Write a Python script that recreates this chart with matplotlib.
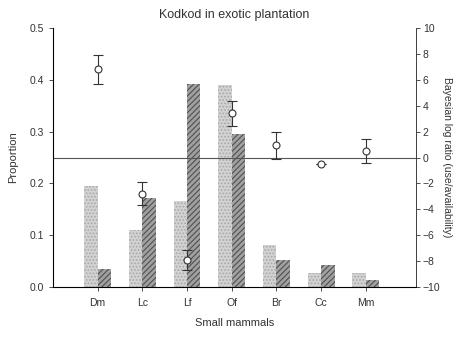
import matplotlib
matplotlib.use('Agg')
import matplotlib.pyplot as plt
import numpy as np

plt.rcParams['font.family'] = ['Liberation Sans', 'DejaVu Sans']
plt.rcParams['hatch.linewidth'] = 0.8

species = ['Dm', 'Lc', 'Lf', 'Of', 'Br', 'Cc', 'Mm']
availability = [0.195, 0.111, 0.167, 0.390, 0.082, 0.028, 0.028]
use = [0.035, 0.172, 0.392, 0.295, 0.052, 0.042, 0.013]
log_ratio = [6.8, -2.8, -7.9, 3.4, 0.95, -0.5, 0.5]
log_err = [1.1, 0.9, 0.75, 0.95, 1.05, 0.0, 0.9]

x = np.arange(1, len(species) + 1)
w = 0.3

fig = plt.figure(figsize=(4.56, 3.37), dpi=100)
ax = fig.add_axes([0.116, 0.148, 0.796, 0.769])

ax.bar(x - w / 2, availability, w, facecolor='#d2d2d2', edgecolor='#a8a8a8',
       hatch='.....', linewidth=0)
ax.bar(x + w / 2, use, w, facecolor='#a0a0a0', edgecolor='#505050',
       hatch='//////', linewidth=0)

ax.set_xlim(0, 8.12)
ax.set_ylim(0, 0.5)
ax.set_xticks(x)
ax.set_xticklabels(species)
ax.set_yticks(np.arange(0, 0.51, 0.1))
ax.set_yticklabels(['%.1f' % v for v in np.arange(0, 0.51, 0.1)])
ax.tick_params(labelsize=7.5, length=3, width=0.6, colors='#333333')
ax.tick_params(axis='x', pad=5)
ax.spines['top'].set_visible(False)
for s in ['left', 'bottom', 'right']:
    ax.spines[s].set_linewidth(0.7)
    ax.spines[s].set_color('#444444')
ax.set_xlabel('Small mammals', fontsize=8, color='#333333', labelpad=7)
ax.set_ylabel('Proportion', fontsize=8, color='#333333', labelpad=8)
ax.set_title('Kodkod in exotic plantation', fontsize=9, color='#333333', pad=7)

ax2 = ax.twinx()
ax2.set_ylim(-10, 10)
ax2.set_yticks(np.arange(-10, 11, 2))
ax2.axhline(0, color='#555555', linewidth=0.8)
ax2.errorbar(x, log_ratio, yerr=log_err, fmt='o', color='#333333', markersize=5,
             markerfacecolor='white', markeredgewidth=0.8, elinewidth=0.8,
             capsize=3.5, capthick=0.8)
ax2.tick_params(labelsize=7.5, length=3, width=0.6, colors='#333333', pad=2)
ax2.spines['top'].set_visible(False)
ax2.spines['right'].set_linewidth(0.7)
ax2.spines['right'].set_color('#444444')
ax2.set_ylabel('Bayesian log ratio (use/availability)', fontsize=7.5,
               color='#333333', rotation=270, labelpad=8)

fig.savefig('out.png', dpi=100)
